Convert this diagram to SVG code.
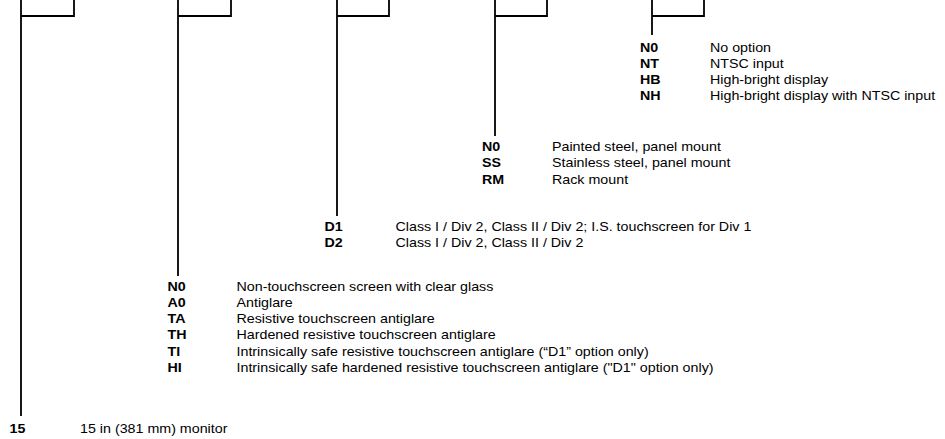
<svg xmlns="http://www.w3.org/2000/svg" width="945" height="439" viewBox="0 0 945 439">
<style>
.ln{fill:none;stroke:#000;stroke-width:1.8;}
text{font-family:"Liberation Sans",Arial,Helvetica,sans-serif;font-size:12px;fill:#000;}
.c{font-weight:bold;}
</style>
<rect width="945" height="439" fill="#fff"/>
<g id="connectors">
<path class="ln" d="M21,0 V416 M21,16 H74 V0"/>
<path class="ln" d="M178,0 V276 M178,16 H231 V0"/>
<path class="ln" d="M337,0 V216 M337,16 H389 V0"/>
<path class="ln" d="M495,0 V136 M495,16 H547 V0"/>
<path class="ln" d="M652,0 V35 M652,16 H704 V0"/>
</g>
<g id="node-size">
<text class="c" transform="translate(9.5,432.5) scale(1.19,1)">15</text>
<text transform="translate(80,432.5) scale(1.19,1)">15 in (381 mm) monitor</text>
</g>
<g id="node-screen">
<text class="c" transform="translate(167.5,290.5) scale(1.19,1)">N0</text>
<text transform="translate(236.5,290.5) scale(1.19,1)">Non-touchscreen screen with clear glass</text>
<text class="c" transform="translate(167.5,306.8) scale(1.19,1)">A0</text>
<text transform="translate(236.5,306.8) scale(1.19,1)">Antiglare</text>
<text class="c" transform="translate(167.5,323) scale(1.19,1)">TA</text>
<text transform="translate(236.5,323) scale(1.19,1)">Resistive touchscreen antiglare</text>
<text class="c" transform="translate(167.5,339.3) scale(1.19,1)">TH</text>
<text transform="translate(236.5,339.3) scale(1.19,1)">Hardened resistive touchscreen antiglare</text>
<text class="c" transform="translate(167.5,355.5) scale(1.19,1)">TI</text>
<text transform="translate(236.5,355.5) scale(1.19,1)">Intrinsically safe resistive touchscreen antiglare (“D1” option only)</text>
<text class="c" transform="translate(167.5,371.8) scale(1.19,1)">HI</text>
<text transform="translate(236.5,371.8) scale(1.19,1)">Intrinsically safe hardened resistive touchscreen antiglare ("D1" option only)</text>
</g>
<g id="node-division">
<text class="c" transform="translate(324.5,231) scale(1.19,1)">D1</text>
<text transform="translate(395.5,231) scale(1.19,1)">Class I / Div 2, Class II / Div 2; I.S. touchscreen for Div 1</text>
<text class="c" transform="translate(324.5,247.3) scale(1.19,1)">D2</text>
<text transform="translate(395.5,247.3) scale(1.19,1)">Class I / Div 2, Class II / Div 2</text>
</g>
<g id="node-mount">
<text class="c" transform="translate(482,151) scale(1.19,1)">N0</text>
<text transform="translate(552,151) scale(1.19,1)">Painted steel, panel mount</text>
<text class="c" transform="translate(482,167.3) scale(1.19,1)">SS</text>
<text transform="translate(552,167.3) scale(1.19,1)">Stainless steel, panel mount</text>
<text class="c" transform="translate(482,183.6) scale(1.19,1)">RM</text>
<text transform="translate(552,183.6) scale(1.19,1)">Rack mount</text>
</g>
<g id="node-options">
<text class="c" transform="translate(640,51.5) scale(1.19,1)">N0</text>
<text transform="translate(710,51.5) scale(1.19,1)">No option</text>
<text class="c" transform="translate(640,67.8) scale(1.19,1)">NT</text>
<text transform="translate(710,67.8) scale(1.19,1)">NTSC input</text>
<text class="c" transform="translate(640,84) scale(1.19,1)">HB</text>
<text transform="translate(710,84) scale(1.19,1)">High-bright display</text>
<text class="c" transform="translate(640,100.3) scale(1.19,1)">NH</text>
<text transform="translate(710,100.3) scale(1.19,1)">High-bright display with NTSC input</text>
</g>
</svg>
